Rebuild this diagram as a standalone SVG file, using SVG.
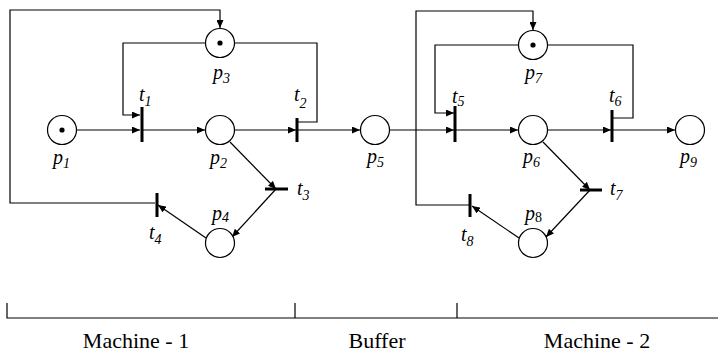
<svg xmlns="http://www.w3.org/2000/svg" width="718" height="357" viewBox="0 0 718 357">
<defs>
<marker id="ah" viewBox="0 0 8 7" refX="8" refY="3.5" markerWidth="8" markerHeight="7" markerUnits="userSpaceOnUse" orient="auto">
<path d="M0,0 L8,3.5 L0,7 z" fill="#000"/>
</marker>
</defs>
<style>
.arc{fill:none;stroke:#000;stroke-width:1.2}
.arr{marker-end:url(#ah)}
.pl{fill:#fff;stroke:#000;stroke-width:1.2}
.tok{fill:#000}
.tr{stroke:#000;stroke-width:3}
.lb{font-family:"Times New Roman","Liberation Serif",Tinos,"DejaVu Serif",serif;font-style:italic;font-size:20px;fill:#000}
.sb{font-size:14px}
.ax{fill:none;stroke:#000;stroke-width:1.2}
.cap{font-family:"Times New Roman","Liberation Serif",Tinos,"DejaVu Serif",serif;font-size:22px;fill:#000;text-anchor:middle}
</style>
<g id="connectors">
<path class="arc arr" d="M77,130 H140"/>
<path class="arc arr" d="M205,43 H123 V115 H140"/>
<path class="arc arr" d="M143,130 H205"/>
<path class="arc arr" d="M235,130 H296"/>
<path class="arc" d="M298,122 H317 V43 H235"/>
<path class="arc arr" d="M298,130 H360"/>
<path class="arc arr" d="M230,142 L276,189"/>
<path class="arc arr" d="M276,189 L232,237"/>
<path class="arc arr" d="M206,238 L158,205"/>
<path class="arc arr" d="M155,203 H10 V10 H220 V28"/>
<path class="arc arr" d="M390,130 H454"/>
<path class="arc arr" d="M518,45 H435 V113 H454"/>
<path class="arc arr" d="M456,130 H518"/>
<path class="arc arr" d="M548,130 H611"/>
<path class="arc" d="M613,118 H633 V45 H548"/>
<path class="arc arr" d="M613,130 H675"/>
<path class="arc arr" d="M543,142 L590,190"/>
<path class="arc arr" d="M590,190 L546,237"/>
<path class="arc arr" d="M519,238 L472,206"/>
<path class="arc arr" d="M469,205 H416 V11 H533 V30"/>
</g>
<g id="p1"><circle class="pl" cx="62" cy="130" r="14.5"/><circle class="tok" cx="62" cy="130" r="2.6"/><text class="lb" x="53" y="164">p<tspan class="sb" dy="4">1</tspan></text></g>
<g id="p2"><circle class="pl" cx="220" cy="130" r="14.5"/><text class="lb" x="210" y="164">p<tspan class="sb" dy="4">2</tspan></text></g>
<g id="p3"><circle class="pl" cx="220" cy="43" r="14.5"/><circle class="tok" cx="220" cy="43" r="2.6"/><text class="lb" x="213" y="79">p<tspan class="sb" dy="4">3</tspan></text></g>
<g id="p4"><circle class="pl" cx="220" cy="243" r="14.5"/><text class="lb" x="212" y="220">p<tspan class="sb" dy="2">4</tspan></text></g>
<g id="p5"><circle class="pl" cx="375" cy="130" r="14.5"/><text class="lb" x="367" y="163">p<tspan class="sb" dy="4">5</tspan></text></g>
<g id="p6"><circle class="pl" cx="533" cy="130" r="14.5"/><text class="lb" x="523" y="163">p<tspan class="sb" dy="4">6</tspan></text></g>
<g id="p7"><circle class="pl" cx="533" cy="45" r="14.5"/><circle class="tok" cx="533" cy="45" r="2.6"/><text class="lb" x="525" y="79">p<tspan class="sb" dy="4">7</tspan></text></g>
<g id="p8"><circle class="pl" cx="533" cy="243" r="14.5"/><text class="lb" x="525" y="220">p<tspan class="sb" dy="2" font-style="normal">8</tspan></text></g>
<g id="p9"><circle class="pl" cx="690" cy="130" r="14.5"/><text class="lb" x="680" y="163">p<tspan class="sb" dy="4">9</tspan></text></g>
<g id="t1"><line class="tr" x1="142" y1="107" x2="142" y2="142"/><text class="lb" x="139" y="101">t<tspan class="sb" dy="5">1</tspan></text></g>
<g id="t2"><line class="tr" x1="297" y1="118" x2="297" y2="142"/><text class="lb" x="294" y="101">t<tspan class="sb" dy="7">2</tspan></text></g>
<g id="t3"><line class="tr" x1="265" y1="189" x2="288" y2="189"/><text class="lb" x="297" y="195">t<tspan class="sb" dy="5">3</tspan></text></g>
<g id="t4"><line class="tr" x1="157" y1="193" x2="157" y2="217"/><text class="lb" x="149" y="239">t<tspan class="sb" dy="5">4</tspan></text></g>
<g id="t5"><line class="tr" x1="455" y1="106" x2="455" y2="142"/><text class="lb" x="452" y="103">t<tspan class="sb" dy="3">5</tspan></text></g>
<g id="t6"><line class="tr" x1="612" y1="110" x2="612" y2="142"/><text class="lb" x="609" y="102">t<tspan class="sb" dy="4">6</tspan></text></g>
<g id="t7"><line class="tr" x1="580" y1="190" x2="602" y2="190"/><text class="lb" x="610" y="195">t<tspan class="sb" dy="5">7</tspan></text></g>
<g id="t8"><line class="tr" x1="470" y1="194" x2="470" y2="217"/><text class="lb" x="461" y="241">t<tspan class="sb" dy="5">8</tspan></text></g>
<g id="axis">
<path class="ax" d="M7,303 V318 H718 M295,303 V318 M457,303 V318"/>
<text class="cap" x="136" y="348">Machine - 1</text>
<text class="cap" x="377" y="348">Buffer</text>
<text class="cap" x="597" y="348">Machine - 2</text>
</g>
</svg>
